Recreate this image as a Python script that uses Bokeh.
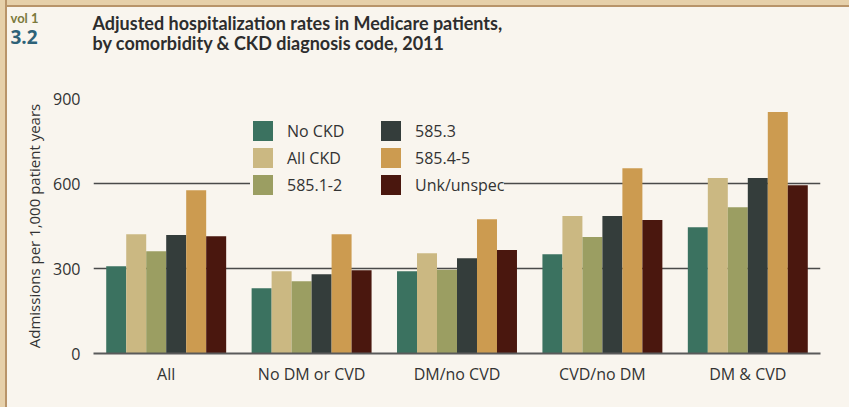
from bokeh.plotting import figure
from bokeh.models import ColumnDataSource, FactorRange, Range1d, Legend, LegendItem, FixedTicker
from bokeh.transform import dodge
from bokeh.layouts import column
from bokeh.core.properties import value
from bokeh.embed import file_html
from bokeh.resources import INLINE

# ---- data ----
groups = ["All", "No DM or CVD", "DM/no CVD", "CVD/no DM", "DM & CVD"]
series = ["No CKD", "All CKD", "585.1-2", "585.3", "585.4-5", "Unk/unspec"]
no_ckd = [308, 230, 290, 350, 446]
all_ckd = [421, 290, 354, 485, 619]
ckd_585_1_2 = [361, 255, 296, 411, 516]
ckd_585_3 = [418, 280, 336, 485, 619]
ckd_585_4_5 = [576, 421, 474, 654, 852]
unk_unspec = [414, 294, 365, 471, 594]
y_ticks = [0, 300, 600, 900]
title_lines = ["Adjusted hospitalization rates in Medicare patients,",
               "by comorbidity & CKD diagnosis code, 2011"]
vol_text = "vol 1"
fig_no = "3.2"

colors = ["#3b7260", "#cbb882", "#9b9e62", "#343d3b", "#cc9b50", "#4a170e"]
keys = ["s0", "s1", "s2", "s3", "s4", "s5"]
BG = "#f9f5ee"

W, HH, HM = 842, 55, 345   # width, header height, main height

# ---- header (title block) ----
h = figure(width=W, height=HH, x_range=Range1d(0, W), y_range=Range1d(HH, 0),
           output_backend="svg", toolbar_location=None,
           x_axis_type=None, y_axis_type=None, min_border=0)
h.frame_align = False
h.background_fill_color = BG
h.border_fill_color = BG
h.outline_line_color = None
h.grid.visible = False
TFONT = "Lato"
h.text(x=[85, 85], y=[15, 35], text=title_lines, text_font=value(TFONT),
       text_font_style="bold", text_font_size="18px", text_color="#2d2d2d",
       text_baseline="middle")
h.text(x=[3], y=[10], text=[vol_text], text_font=value(TFONT), text_font_style="bold",
       text_font_size="13px", text_color="#7c7a3c", text_baseline="middle")
h.text(x=[3], y=[29], text=[fig_no], text_font=value("Open Sans"), text_font_style="bold",
       text_font_size="19px", text_color="#2e6278", text_baseline="middle")

# ---- main chart ----
src = ColumnDataSource(dict(group=groups, s0=no_ckd, s1=all_ckd, s2=ckd_585_1_2,
                            s3=ckd_585_3, s4=ckd_585_4_5, s5=unk_unspec))

p = figure(x_range=FactorRange(*groups, range_padding=0), y_range=Range1d(0, 900),
           width=W, height=HM, output_backend="svg", toolbar_location=None,
           min_border_left=86, min_border_right=29, min_border_top=36, min_border_bottom=54)
p.frame_align = False
p.background_fill_color = BG
p.border_fill_color = BG
p.outline_line_color = None

bw = 0.1375
renderers = []
for i, (k, c) in enumerate(zip(keys, colors)):
    r = p.vbar(x=dodge("group", (i - 2.5) * bw, range=p.x_range), top=k, width=bw,
               source=src, fill_color=c, line_color=None)
    renderers.append(r)

p.yaxis.ticker = FixedTicker(ticks=y_ticks)
p.yaxis.axis_line_color = None
p.yaxis.major_tick_line_color = None
p.yaxis.minor_tick_line_color = None
p.yaxis.major_label_standoff = 7
p.yaxis.major_label_text_font = "Open Sans"
p.yaxis.major_label_text_font_size = "16px"
p.yaxis.major_label_text_color = "#333333"
p.yaxis.axis_label = "Admissions per 1,000 patient years"
p.yaxis.axis_label_text_font = "Open Sans"
p.yaxis.axis_label_text_font_size = "15px"
p.yaxis.axis_label_text_font_style = "normal"
p.yaxis.axis_label_text_color = "#333333"
p.yaxis.axis_label_standoff = 6

p.xaxis.axis_line_color = "#5a5a5a"
p.xaxis.axis_line_width = 2
p.xaxis.major_tick_line_color = None
p.xaxis.minor_tick_line_color = None
p.xaxis.major_label_standoff = 3
p.xaxis.major_label_text_font = "Open Sans"
p.xaxis.major_label_text_font_size = "16px"
p.xaxis.major_label_text_color = "#333333"

p.xgrid.grid_line_color = None
p.ygrid.grid_line_color = "#4a4a4a"
p.ygrid.grid_line_width = 1.3

legend = Legend(items=[LegendItem(label=s, renderers=[r]) for s, r in zip(series, renderers)],
                orientation="vertical", nrows=3, location=(157, 156), padding=18, spacing=2,
                glyph_width=25, glyph_height=25, label_standoff=12, label_width=89,
                label_text_font="Open Sans", label_text_font_size="16px",
                label_text_color="#333333", background_fill_color=BG,
                background_fill_alpha=1, border_line_color=None)
p.add_layout(legend)

layout = column(h, p, spacing=0)

html = file_html(layout, INLINE)
css = ("<style>html{background:%s !important;}"
       "body{padding:7px 0 0 7px !important;"
       "background:linear-gradient(to right, #e6d0aa 0, #e6d0aa 5px, #b8946a 5px, #b8946a 7px, transparent 7px),"
       "linear-gradient(to bottom, #e6d0aa 0, #e6d0aa 5px, #b8946a 5px, #b8946a 7px, %s 7px) !important;}</style>"
       % (BG, BG))
html = html.replace("</head>", css + "</head>", 1)
open("out.html", "w").write(html)
